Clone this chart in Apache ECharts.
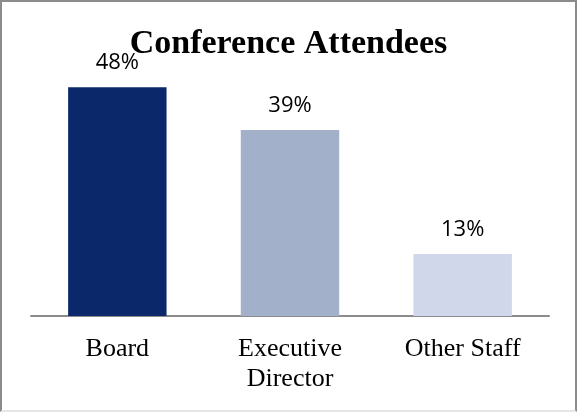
<!DOCTYPE html>
<html>
<head>
<meta charset="utf-8">
<script src="https://cdn.jsdelivr.net/npm/echarts@6/dist/echarts.min.js"></script>
<style>
  html, body { margin: 0; padding: 0; background: #fff; }
  #chart {
    width: 577px;
    height: 412px;
    box-sizing: border-box;
    border: 2px solid #8c8c8c;
    border-bottom-color: #e6e6e6;
  }
</style>
</head>
<body>
<div id="chart"></div>
<script>
const categories = ['Board', 'Executive\nDirector', 'Other Staff']
const values = [48, 39, 13]
const barColors = ['#0b296a', '#a3b0ca', '#d1d7ea']

const myChart = echarts.init(document.getElementById('chart'))

const option = {
  animation: false,
  title: {
    text: 'Conference Attendees',
    left: 'center',
    top: 20,
    textStyle: {
      fontFamily: 'Liberation Serif',
      fontWeight: 'bold',
      fontSize: 34,
      color: '#000'
    }
  },
  grid: {
    left: 29,
    right: 26,
    top: 28,
    bottom: 94,
    containLabel: false
  },
  xAxis: {
    type: 'category',
    data: categories,
    axisTick: { show: false },
    axisLine: { lineStyle: { color: '#8c8c8c', width: 2 } },
    axisLabel: {
      color: '#000',
      fontFamily: 'Liberation Serif',
      fontSize: 26,
      lineHeight: 30,
      margin: 18,
      interval: 0
    }
  },
  yAxis: {
    type: 'value',
    min: 0,
    max: 60,
    show: false,
    splitLine: { show: false }
  },
  series: [
    {
      type: 'bar',
      barWidth: '57%',
      data: values.map((v, i) => ({ value: v, itemStyle: { color: barColors[i] } })),
      label: {
        show: true,
        position: 'top',
        distance: 13,
        formatter: '{c}%',
        color: '#000',
        fontFamily: 'Open Sans',
        fontSize: 22
      }
    }
  ]
}

myChart.setOption(option)
</script>
</body>
</html>
